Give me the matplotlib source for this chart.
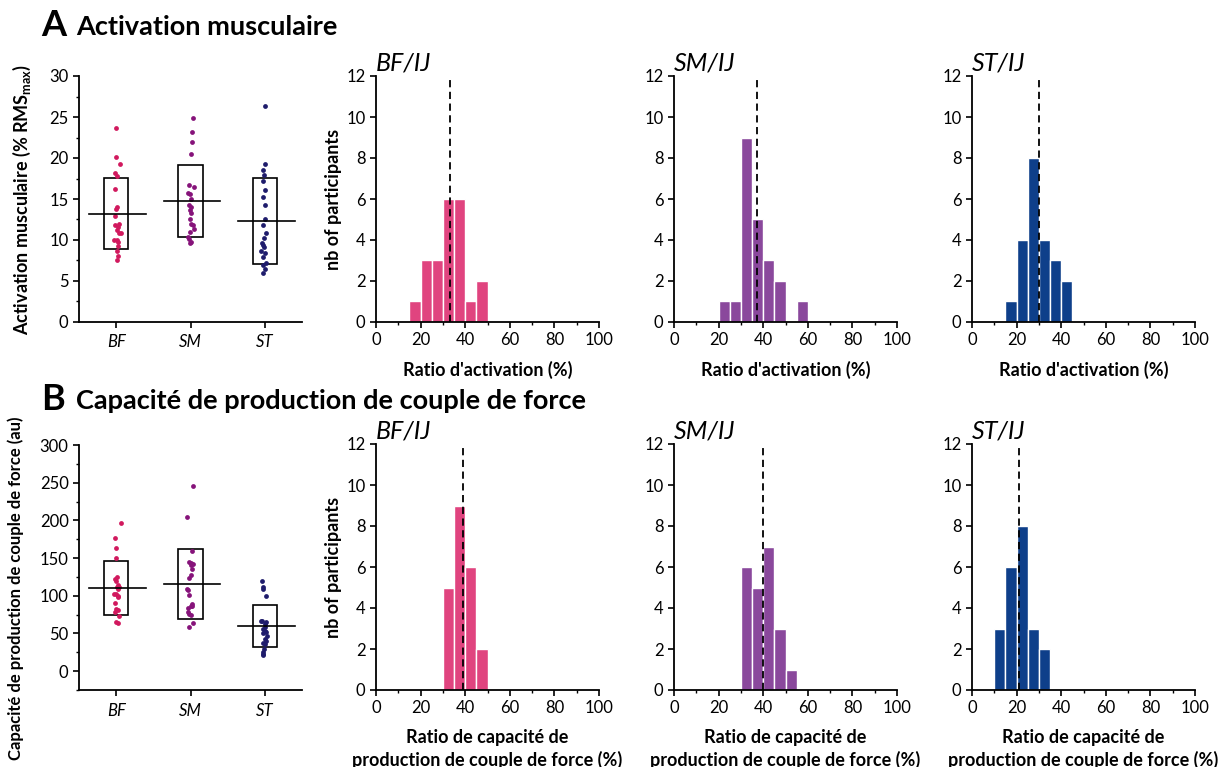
import numpy as np
import matplotlib.pyplot as plt
from matplotlib.ticker import MultipleLocator

plt.rcParams['font.family'] = ['Lato', 'DejaVu Sans']
plt.rcParams['mathtext.fontset'] = 'custom'
plt.rcParams['mathtext.rm'] = 'Lato'
plt.rcParams['mathtext.bf'] = 'Lato:bold'

# ---- data ----
muscles = ['BF', 'SM', 'ST']

# Panel A: muscle activation (% RMSmax), individual values + mean / SD box
act_bf = [23.6, 20.1, 19.3, 18.2, 17.8, 16.2, 14.0, 13.8, 12.9, 12.0, 11.8,
          11.6, 11.2, 10.9, 10.8, 10.0, 10.0, 9.8, 9.3, 8.7, 8.1, 7.6]
act_sm = [24.9, 23.2, 22.0, 20.5, 16.7, 16.5, 15.7, 15.6, 15.0, 14.3, 14.0,
          13.7, 13.3, 12.5, 12.0, 11.8, 11.3, 11.0, 10.4, 10.1, 9.8, 9.6]
act_st = [26.4, 19.3, 18.5, 17.9, 17.2, 16.1, 15.3, 14.3, 12.5, 11.8, 10.8,
          10.2, 9.6, 9.4, 9.1, 8.7, 8.4, 7.9, 7.2, 6.9, 6.5, 6.0]
act_jit_bf = [0.0, 0.0, 0.05, -0.02, 0.01, -0.01, 0.01, 0.0, -0.02, 0.04, -0.01,
              0.02, 0.01, 0.07, 0.04, -0.03, 0.01, 0.02, 0.02, 0.01, 0.02, 0.01]
act_jit_sm = [0.04, 0.02, 0.02, 0.01, -0.02, 0.05, -0.03, -0.01, 0.01, -0.02, 0.01,
              -0.01, 0.0, -0.01, 0.01, 0.04, 0.05, -0.01, -0.03, -0.02, 0.0, -0.01]
act_jit_st = [0.0, 0.0, -0.03, -0.01, -0.02, 0.0, -0.02, 0.0, 0.0, -0.03, 0.01,
              -0.01, -0.04, -0.03, -0.01, -0.05, 0.0, -0.02, 0.01, -0.02, 0.0, -0.03]
act_mean = [13.2, 14.8, 12.3]
act_sd = [4.35, 4.4, 5.25]

# Panel B: torque production capacity (au)
frc_bf = [197, 176, 164, 150, 125, 122, 120, 114, 112, 111, 109, 103,
          102, 100, 99, 91, 83, 81, 79, 73, 65, 64]
frc_sm = [246, 204, 160, 145, 143, 142, 141, 135, 127, 124, 109, 107,
          101, 89, 87, 86, 84, 78, 76, 74, 64, 59]
frc_st = [120, 111, 109, 100, 67, 66, 65, 63, 59, 56, 53, 52,
          50, 47, 42, 40, 38, 36, 30, 26, 23, 22]
frc_jit_bf = [0.06, -0.02, 0.0, 0.0, 0.01, -0.02, 0.0, 0.03, 0.01, 0.04, 0.02, -0.03,
              0.0, 0.02, 0.02, -0.02, 0.0, 0.02, -0.02, 0.04, 0.0, 0.02]
frc_jit_sm = [0.04, -0.05, 0.02, -0.02, 0.01, 0.04, 0.0, 0.02, 0.0, -0.02, -0.05, -0.04,
              -0.02, 0.02, 0.01, 0.02, -0.03, -0.03, -0.02, 0.01, 0.04, -0.02]
frc_jit_st = [-0.04, -0.03, -0.02, 0.01, -0.05, -0.04, 0.02, 0.0, 0.0, -0.02, 0.0, 0.02,
              -0.02, 0.03, 0.0, 0.02, -0.02, 0.0, -0.01, -0.02, -0.03, -0.03]
frc_mean = [110, 116, 60]
frc_sd = [35.5, 46.5, 28]

# Histograms: counts per 5 % bin, bins start at the left edge listed
act_bins = {'BF': [15, 20, 25, 30, 35, 40, 45],
            'SM': [20, 25, 30, 35, 40, 45, 55],
            'ST': [15, 20, 25, 30, 35, 40]}
act_counts = {'BF': [1, 3, 3, 6, 6, 1, 2],
              'SM': [1, 1, 9, 5, 3, 2, 1],
              'ST': [1, 4, 8, 4, 3, 2]}
act_median = {'BF': 33, 'SM': 37, 'ST': 30}

frc_bins = {'BF': [30, 35, 40, 45],
            'SM': [30, 35, 40, 45, 50],
            'ST': [10, 15, 20, 25, 30]}
frc_counts = {'BF': [5, 9, 6, 2],
              'SM': [6, 5, 7, 3, 1],
              'ST': [3, 6, 8, 3, 2]}
frc_median = {'BF': 39, 'SM': 40, 'ST': 21}

dot_colors = ['#D1195E', '#86137A', '#1F1C6C']
bar_colors = {'BF': '#E0447F', 'SM': '#8A489C', 'ST': '#0E3F8A'}

W, H = 1223, 767
fig = plt.figure(figsize=(W / 100, H / 100), dpi=100)


def px_axes(l, t, r, b):
    return fig.add_axes([l / W, 1 - b / H, (r - l) / W, (b - t) / H])


def style(ax):
    for s in ['top', 'right']:
        ax.spines[s].set_visible(False)
    for s in ['left', 'bottom']:
        ax.spines[s].set_linewidth(1.3)
    ax.tick_params(which='major', direction='out', length=4, width=1.2,
                   labelsize=12, pad=3.5)
    ax.tick_params(which='minor', direction='out', length=2.5, width=1.0)


def scatter_panel(ax, values, jits, means, sds, ylim, major, ylabel, ylsize):
    for i, (v, j) in enumerate(zip(values, jits)):
        xc = i + 1
        ax.scatter(xc + np.array(j), v, s=12, color=dot_colors[i], zorder=3,
                   linewidths=0)
        ax.add_patch(plt.Rectangle((xc - 0.165, means[i] - sds[i]), 0.33,
                                   2 * sds[i], fill=False, edgecolor='black',
                                   linewidth=1.2, zorder=2))
        ax.plot([xc - 0.36, xc + 0.40], [means[i], means[i]], color='black',
                linewidth=1.2, zorder=4)
    ax.set_xlim(0.5, 3.5)
    ax.set_ylim(*ylim)
    ax.set_xticks([1, 2, 3])
    ax.set_xticklabels(muscles, fontstyle='italic', fontsize=13)
    ax.yaxis.set_major_locator(MultipleLocator(major))
    ax.yaxis.set_minor_locator(MultipleLocator(major / 2))
    style(ax)
    ax.tick_params(axis='x', pad=5)
    ax.set_ylabel(ylabel, fontsize=ylsize, fontweight='bold')


def hist_panel(ax, m, bins, counts, median, xlabel, ylabel):
    ax.bar(bins, counts, width=5, align='edge', color=bar_colors[m],
           edgecolor='white', linewidth=1.0, zorder=2)
    ax.plot([median, median], [0, 11.85], color='black', linestyle=(0, (4, 2.5)),
            linewidth=1.3, zorder=3)
    ax.set_xlim(0, 100)
    ax.set_ylim(0, 12)
    ax.xaxis.set_major_locator(MultipleLocator(20))
    ax.xaxis.set_minor_locator(MultipleLocator(10))
    ax.yaxis.set_major_locator(MultipleLocator(2))
    style(ax)
    ax.set_xlabel(xlabel, fontsize=13, fontweight='bold', labelpad=9,
                  linespacing=1.35)
    if ylabel:
        ax.set_ylabel(ylabel, fontsize=13, fontweight='bold', labelpad=3)
    ax.text(0, 1 + 6 / 246, m + '/IJ', transform=ax.transAxes, fontsize=18,
            fontstyle='italic', ha='left', va='baseline')


# ---- row A ----
axA = px_axes(79, 76, 302, 322)
scatter_panel(axA, [act_bf, act_sm, act_st], [act_jit_bf, act_jit_sm, act_jit_st],
              act_mean, act_sd, (0, 30), 5,
              r'Activation musculaire (% RMS$_{\mathregular{max}}$)', 13)
axA.yaxis.set_label_coords(-0.205, 0.5)

lefts = {'BF': 376, 'SM': 674, 'ST': 972}
for k, m in enumerate(muscles):
    ax = px_axes(lefts[m], 76, lefts[m] + 223, 322)
    hist_panel(ax, m, act_bins[m], act_counts[m], act_median[m],
               "Ratio d'activation (%)", 'nb of participants' if k == 0 else None)

# ---- row B ----
axB = px_axes(79, 445, 302, 690)
scatter_panel(axB, [frc_bf, frc_sm, frc_st], [frc_jit_bf, frc_jit_sm, frc_jit_st],
              frc_mean, frc_sd, (-25, 300), 50,
              'Capacité de production de couple de force (au)', 12)
axB.yaxis.set_label_coords(-0.245, 0.415)

for k, m in enumerate(muscles):
    ax = px_axes(lefts[m], 444, lefts[m] + 223, 690)
    hist_panel(ax, m, frc_bins[m], frc_counts[m], frc_median[m],
               'Ratio de capacité de\nproduction de couple de force (%)',
               'nb of participants' if k == 0 else None)

# ---- panel headings ----
fig.text(41 / W, 1 - 36 / H, 'A', fontsize=26, fontweight='bold', va='baseline')
fig.text(76 / W, 1 - 35 / H, 'Activation musculaire', fontsize=19.5,
         fontweight='bold', va='baseline')
fig.text(41 / W, 1 - 410 / H, 'B', fontsize=26, fontweight='bold', va='baseline')
fig.text(76 / W, 1 - 409 / H, 'Capacité de production de couple de force',
         fontsize=19.5, fontweight='bold', va='baseline')

fig.savefig('out.png', dpi=100)
